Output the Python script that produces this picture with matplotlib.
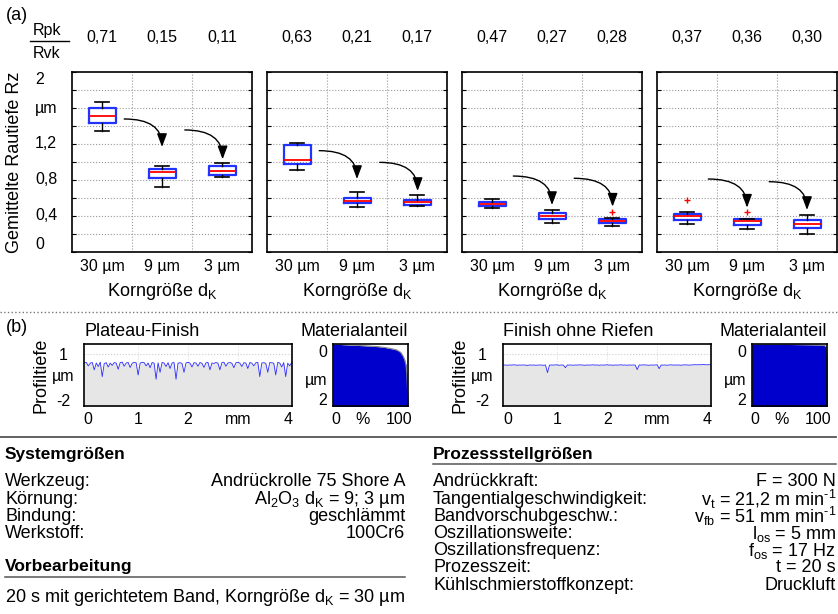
import numpy as np
import matplotlib
matplotlib.use("Agg")
import matplotlib.pyplot as plt
from matplotlib.patches import FancyArrowPatch
from matplotlib.lines import Line2D

plt.rcParams['font.family'] = ['Liberation Sans', 'DejaVu Sans']
plt.rcParams['mathtext.fontset'] = 'custom'
plt.rcParams['mathtext.rm'] = 'Liberation Sans'
plt.rcParams['mathtext.it'] = 'Liberation Sans:italic'

W, H = 838, 614

# ---- data (a): boxplot stats per panel, columns = 30 / 9 / 3 um
grain_labels = ['30 µm', '9 µm', '3 µm']
rpk_rvk = [['0,71', '0,15', '0,11'],
           ['0,63', '0,21', '0,17'],
           ['0,47', '0,27', '0,28'],
           ['0,37', '0,36', '0,30']]
q3 = [[1.597, 0.919, 0.952], [1.189, 0.600, 0.578], [0.556, 0.430, 0.363], [0.418, 0.363, 0.356]]
med = [[1.508, 0.886, 0.896], [1.026, 0.570, 0.552], [0.533, 0.400, 0.341], [0.396, 0.348, 0.311]]
q1 = [[1.433, 0.822, 0.852], [0.974, 0.544, 0.522], [0.511, 0.363, 0.326], [0.352, 0.304, 0.267]]
whi = [[1.670, 0.956, 0.990], [1.207, 0.670, 0.633], [0.585, 0.467, 0.374], [0.448, 0.367, 0.407]]
wlo = [[1.348, 0.726, 0.830], [0.915, 0.500, 0.511], [0.485, 0.322, 0.289], [0.311, 0.256, 0.196]]
fliers = [[[], [], []], [[], [], []], [[], [], [0.441]], [[0.581], [0.441], []]]
# arrows: (x0, y0, x1, y1) per panel
arrows = [[(1.37, 1.478, 2.0, 1.167), (2.38, 1.356, 3.01, 1.03)],
          [(1.37, 1.126, 2.0, 0.811), (2.38, 0.996, 3.01, 0.678)],
          [(1.355, 0.844, 2.0, 0.522), (2.37, 0.819, 3.01, 0.504)],
          [(1.355, 0.811, 2.0, 0.493), (2.37, 0.781, 3.0, 0.467)]]
ytick_vals = [0, 0.4, 0.8, 1.2, 1.6, 2.0]
ytick_txt = ['0', '0,4', '0,8', '1,2', 'µm', '2']

# ---- data (b): surface profiles (um) sampled every 0.04 mm, and material ratio curves
prof_x0, prof_dx = -0.08, 0.04
plateau_z = [0.42, 0.45, 0.22, 0.40, 0.44, -0.04, 0.41, 0.18, 0.46, -0.48, 0.38, 0.43, 0.15, 0.40, 0.25,
             0.44, 0.40, 0.00, 0.43, 0.47, 0.20, 0.41, 0.44, 0.12, 0.39, 0.45, 0.42, -0.37, 0.40, 0.46,
             0.43, 0.22, 0.41, 0.10, 0.44, 0.40, -0.65, 0.42, -0.20, 0.45, 0.40, 0.18, 0.43, 0.05, 0.41,
             0.44, -0.65, 0.40, 0.43, 0.38, -0.20, 0.42, 0.45, 0.40, 0.15, 0.43, 0.41, 0.20, 0.44, 0.39,
             0.12, 0.42, 0.45, -0.04, 0.41, 0.38, 0.44, 0.40, -0.04, 0.43, 0.46, 0.20, 0.41, 0.44, 0.39,
             0.10, 0.42, 0.45, 0.40, 0.18, 0.43, 0.41, 0.05, 0.44, 0.40, 0.22, 0.42, 0.45, -0.48, 0.41,
             0.43, 0.39, -0.20, 0.44, 0.42, 0.40, -0.37, 0.45, 0.41, 0.15, 0.43, -0.48, 0.40, 0.22, 0.44]
smooth_z = [0.27, 0.28, 0.26, 0.28, 0.27, 0.29, 0.28, 0.26, 0.28, 0.27, 0.28, 0.27, 0.25, 0.28, 0.27,
            0.28, 0.26, 0.27, 0.28, 0.27, 0.26, 0.28, -0.22, 0.27, 0.28, 0.27, 0.29, 0.28, 0.26, 0.28,
            0.27, 0.10, 0.28, 0.27, 0.28, 0.26, 0.28, 0.27, 0.29, 0.28, 0.27, 0.26, 0.28, 0.27, 0.28,
            0.29, 0.27, 0.28, 0.26, 0.28, 0.27, 0.28, 0.29, 0.27, 0.28, 0.26, 0.28, 0.27, 0.28, 0.29,
            0.27, 0.28, 0.26, 0.28, 0.27, 0.28, 0.27, -0.02, 0.28, 0.27, 0.29, 0.28, 0.27, 0.26, 0.28,
            0.27, 0.28, 0.29, 0.04, 0.28, 0.27, 0.28, 0.26, 0.28, 0.29, 0.27, 0.28, 0.27, 0.28, 0.26,
            0.28, 0.29, 0.28, 0.27, 0.28, 0.29, 0.30, 0.29, 0.30, 0.29, 0.31, 0.30, 0.29, 0.30, 0.30]
mr_plateau_x = [0, 20, 40, 60, 70, 80, 85, 90, 93, 95, 97, 98, 99, 100]
mr_plateau_d = [-0.29, -0.25, -0.22, -0.18, -0.14, -0.08, -0.04, 0.06, 0.21, 0.35, 0.59, 0.93, 1.63, 2.29]
mr_smooth_x = [0, 50, 90, 97, 99, 99.7, 100]
mr_smooth_d = [-0.29, -0.27, -0.25, -0.22, -0.15, 0.2, 2.29]

# ---- data: parameter tables
sys_rows = [('Werkzeug:', 'Andrückrolle 75 Shore A'),
            ('Körnung:', r'Al$_2$O$_3$ d$_\mathrm{K}$ = 9; 3 µm'),
            ('Bindung:', 'geschlämmt'),
            ('Werkstoff:', '100Cr6')]
pre_text = r'20 s mit gerichtetem Band, Korngröße d$_\mathrm{K}$ = 30 µm'
proc_rows = [('Andrückkraft:', 'F = 300 N'),
             ('Tangentialgeschwindigkeit:', 'v$_\\mathrm{t}$ = 21,2 m min$^\\mathrm{\u2010 1}$'),
             ('Bandvorschubgeschw.:', 'v$_\\mathrm{fb}$ = 51 mm min$^\\mathrm{\u2010 1}$'),
             ('Oszillationsweite:', r'l$_\mathrm{os}$ = 5 mm'),
             ('Oszillationsfrequenz:', r'f$_\mathrm{os}$ = 17 Hz'),
             ('Prozesszeit:', 't = 20 s'),
             ('Kühlschmierstoffkonzept:', 'Druckluft')]


def rect(x, y, w, h):
    return [x / W, 1 - (y + h) / H, w / W, h / H]


def hline(x0, x1, y, **kw):
    fig.add_artist(Line2D([x0 / W, x1 / W], [1 - y / H, 1 - y / H], transform=fig.transFigure, **kw))


def ftext(x, y, s, **kw):
    fig.text(x / W, 1 - y / H, s, **kw)


fig = plt.figure(figsize=(W / 100, H / 100), dpi=100)

# ---------------- (a) boxplots
ftext(6, 15, '(a)', fontsize=13, va='center')
ftext(47, 30, 'Rpk', fontsize=11.5, ha='center', va='center')
ftext(47, 53, 'Rvk', fontsize=11.5, ha='center', va='center')
hline(30, 69, 41, color='black', lw=1)
ftext(15, 162, 'Gemittelte Rautiefe Rz', fontsize=13, rotation=90, ha='center', va='center')

for p, left in enumerate([72, 267, 462, 657]):
    ax = fig.add_axes(rect(left, 72, 180, 180))
    stats = []
    for j in range(3):
        stats.append(dict(med=med[p][j], q1=q1[p][j], q3=q3[p][j],
                          whislo=wlo[p][j], whishi=whi[p][j], fliers=fliers[p][j]))
    ax.bxp(stats, positions=[1, 2, 3], widths=0.45, capwidths=0.22,
           boxprops=dict(color='#2233ff', lw=1.6),
           medianprops=dict(color='red', lw=1.3),
           whiskerprops=dict(color='black', lw=1),
           capprops=dict(color='black', lw=1.2),
           flierprops=dict(marker='+', markeredgecolor='red', markersize=4, lw=0))
    ax.set_xlim(0.5, 3.5)
    ax.set_ylim(0, 2)
    ax.set_yticks(np.arange(0, 2.01, 0.2))
    ax.set_yticklabels([])
    ax.set_xticks([1, 2, 3])
    ax.set_xticklabels(grain_labels, fontsize=11.5)
    ax.tick_params(axis='x', length=0, pad=5)
    ax.tick_params(axis='y', direction='in', length=3, left=True, right=True, width=0.8)
    for yv in np.arange(0.2, 2.0, 0.2):
        ax.axhline(yv, color='#999999', ls=':', lw=0.8, zorder=0)
    for xv in [1.5, 2.5]:
        ax.axvline(xv, color='#999999', ls=':', lw=0.8, zorder=0)
    for s in ax.spines.values():
        s.set_linewidth(1.2)
    ax.set_xlabel(r'Korngröße d$_\mathrm{K}$', fontsize=13, labelpad=5)
    for j in range(3):
        ax.text(j + 1, 1.19, rpk_rvk[p][j], transform=ax.get_xaxis_transform(),
                ha='center', va='center', fontsize=11.5)
    for (x0, y0, x1, y1) in arrows[p]:
        ax.add_patch(FancyArrowPatch((x0, y0), (x1, y1),
                                     connectionstyle='angle3,angleA=0,angleB=90',
                                     arrowstyle='-|>,head_length=0.8,head_width=0.3',
                                     mutation_scale=10, color='black', lw=1,
                                     shrinkA=0, shrinkB=0))
    if p == 0:
        tr = ax.get_yaxis_transform()
        for v, t in zip(ytick_vals, ytick_txt):
            va = 'top' if v == 2.0 else ('bottom' if v == 0 else 'center')
            ax.text(-0.205, v, t, transform=tr, ha='left', va=va, fontsize=11.5)

hline(0, 838, 311.5, color='#777777', ls=':', lw=1)

# ---------------- (b) profiles
ftext(6, 327, '(b)', fontsize=13, va='center')
n = len(plateau_z)
px = prof_x0 + prof_dx * np.arange(n)

for lx, mx, title, zz, mrx, mrd in [(84, 332.7, 'Plateau-Finish', plateau_z, mr_plateau_x, mr_plateau_d),
                                     (503.3, 751.7, 'Finish ohne Riefen', smooth_z, mr_smooth_x, mr_smooth_d)]:
    ax = fig.add_axes(rect(lx, 344, 208, 62))
    ax.set_xlim(-0.086, 4.086)
    ax.set_ylim(-2.4, 1.65)
    ax.fill_between(px, -3, zz, color='#e6e6e6', lw=0)
    ax.plot(px, zz, color='#2b2bff', lw=0.6)
    ax.axhline(1, color='#cccccc', ls=':', lw=0.8, zorder=0)
    for xv in [1, 2, 3]:
        ax.axvline(xv, color='#dddddd', ls=':', lw=0.8, zorder=0)
    ax.set_xticks([0, 1, 2, 3, 4])
    ax.set_xticklabels(['0', '1', '2', 'mm', '4'], fontsize=11.5)
    ax.set_yticks([1, -0.4, -2])
    ax.set_yticklabels(['1', 'µm', '-2'], fontsize=11.5, ha='center')
    ax.tick_params(axis='both', length=0)
    ax.tick_params(axis='y', pad=15)
    ax.tick_params(axis='x', pad=4)
    ax.set_title(title, fontsize=13, loc='left', pad=6)
    ax.set_ylabel('Profiltiefe', fontsize=13, labelpad=2)
    for s in ax.spines.values():
        s.set_linewidth(1.2)

    am = fig.add_axes(rect(mx, 344, 75.6, 62))
    am.set_xlim(0, 100)
    am.set_ylim(2.29, -0.29)
    am.fill_between(mrx, mrd, 3, color='#0000cc', lw=0)
    am.plot(mrx, mrd, color='#888888', lw=0.8)
    am.set_xticks([4.4, 40, 88])
    am.set_xticklabels(['0', '%', '100'], fontsize=11.5)
    am.set_yticks([0, 1.15, 2])
    am.set_yticklabels(['0', 'µm', '2'], fontsize=11.5)
    am.tick_params(axis='both', length=0)
    am.tick_params(axis='y', pad=4)
    am.tick_params(axis='x', pad=4)
    am.set_title('Materialanteil', fontsize=13, loc='right', pad=6)
    for s in am.spines.values():
        s.set_linewidth(1.2)

# ---------------- tables
fs = 13
hline(0, 836, 437, color='#555555', lw=1.3)
ftext(5, 455, 'Systemgrößen', fontsize=12.5, fontweight='bold', va='center')
for i, (k, v) in enumerate(sys_rows):
    y = 482 + 17.3 * i
    ftext(5, y, k, fontsize=fs, va='center')
    ftext(405, y, v, fontsize=fs, va='center', ha='right')
ftext(5, 567, 'Vorbearbeitung', fontsize=12.5, fontweight='bold', va='center')
hline(5, 405, 577, color='#555555', lw=1.1)
ftext(5, 598, pre_text, fontsize=fs, va='center')

ftext(433, 455, 'Prozessstellgrößen', fontsize=12.5, fontweight='bold', va='center')
hline(433, 836, 463.5, color='#555555', lw=1.1)
for i, (k, v) in enumerate(proc_rows):
    y = 482 + 17.2 * i
    ftext(433, y, k, fontsize=fs, va='center')
    ftext(836, y, v, fontsize=fs, va='center', ha='right')

fig.savefig('out.png', dpi=100, facecolor='white')
